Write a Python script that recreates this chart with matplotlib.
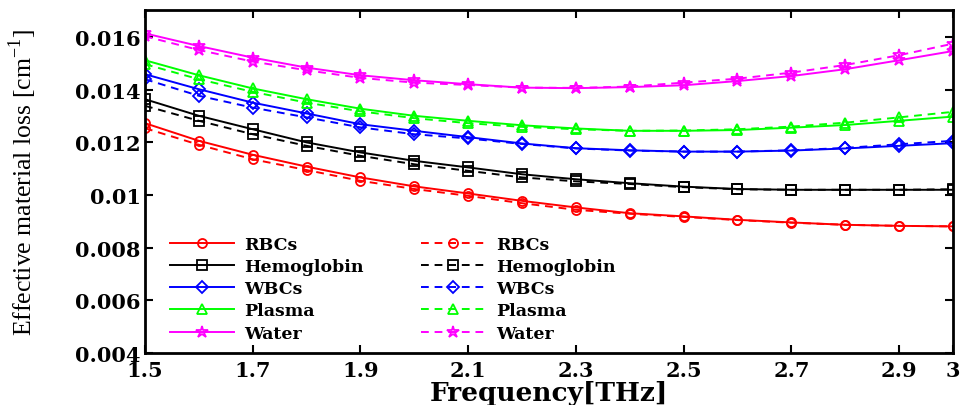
import matplotlib
matplotlib.use("Agg")
import matplotlib.pyplot as plt
import numpy as np

freq = [1.5, 1.6, 1.7, 1.8, 1.9, 2.0, 2.1, 2.2, 2.3, 2.4, 2.5, 2.6, 2.7, 2.8, 2.9, 3.0]

rbc_solid = [0.01273, 0.01206, 0.01153, 0.01108, 0.01067, 0.01033, 0.01006, 0.00978, 0.00953, 0.00931, 0.00919, 0.00906, 0.00896, 0.00887, 0.00883, 0.00881]
rbc_dash = [0.01254, 0.01191, 0.01136, 0.01095, 0.01054, 0.01023, 0.00997, 0.00969, 0.00944, 0.00929, 0.00917, 0.00905, 0.00895, 0.00887, 0.00883, 0.00881]
hem_solid = [0.01364, 0.01301, 0.01250, 0.01200, 0.01162, 0.01130, 0.01105, 0.01079, 0.01060, 0.01045, 0.01032, 0.01023, 0.01020, 0.01020, 0.01020, 0.01020]
hem_dash = [0.01339, 0.01282, 0.01231, 0.01187, 0.01149, 0.01117, 0.01092, 0.01067, 0.01052, 0.01042, 0.01030, 0.01022, 0.01020, 0.01020, 0.01020, 0.01022]
wbc_solid = [0.01459, 0.01402, 0.01351, 0.01310, 0.01269, 0.01244, 0.01220, 0.01196, 0.01178, 0.01170, 0.01165, 0.01165, 0.01169, 0.01177, 0.01187, 0.01197]
wbc_dash = [0.01440, 0.01377, 0.01332, 0.01295, 0.01257, 0.01231, 0.01215, 0.01194, 0.01177, 0.01169, 0.01165, 0.01165, 0.01170, 0.01179, 0.01193, 0.01206]
pla_solid = [0.01512, 0.01455, 0.01405, 0.01364, 0.01328, 0.01301, 0.01282, 0.01265, 0.01253, 0.01244, 0.01244, 0.01247, 0.01256, 0.01266, 0.01282, 0.01298]
pla_dash = [0.01497, 0.01440, 0.01392, 0.01351, 0.01318, 0.01292, 0.01273, 0.01259, 0.01250, 0.01244, 0.01245, 0.01250, 0.01260, 0.01275, 0.01295, 0.01316]
wat_solid = [0.01614, 0.01566, 0.01522, 0.01484, 0.01455, 0.01436, 0.01421, 0.01408, 0.01406, 0.01410, 0.01417, 0.01433, 0.01452, 0.01478, 0.01512, 0.01547]
wat_dash = [0.01603, 0.01551, 0.01507, 0.01474, 0.01445, 0.01427, 0.01418, 0.01408, 0.01407, 0.01412, 0.01427, 0.01442, 0.01465, 0.01494, 0.01531, 0.01575]

labels = ["RBCs", "Hemoglobin", "WBCs", "Plasma", "Water"]
colors = ["#ff0000", "#000000", "#0000ff", "#00ff00", "#ff00ff"]
markers = ["o", "s", "D", "^", "*"]
solid = [rbc_solid, hem_solid, wbc_solid, pla_solid, wat_solid]
dashed = [rbc_dash, hem_dash, wbc_dash, pla_dash, wat_dash]
xticks = [1.5, 1.7, 1.9, 2.1, 2.3, 2.5, 2.7, 2.9, 3.0]
xticklabels = ["1.5", "1.7", "1.9", "2.1", "2.3", "2.5", "2.7", "2.9", "3"]
yticks = [0.004, 0.006, 0.008, 0.01, 0.012, 0.014, 0.016]
yticklabels = ["0.004", "0.006", "0.008", "0.01", "0.012", "0.014", "0.016"]

wide = ["DejaVu Serif", "Liberation Serif"]
times = ["Liberation Serif", "DejaVu Serif"]
plt.rcParams['font.family'] = times
plt.rcParams['mathtext.fontset'] = 'custom'
plt.rcParams['mathtext.rm'] = 'Liberation Serif'

fig = plt.figure(figsize=(9.62, 4.06), dpi=100)
ax = fig.add_axes([0.1507, 0.128, 0.8399, 0.845])

msize = {"o": 6.5, "s": 7, "D": 6, "^": 7, "*": 9}
for lab, c, m, ys in zip(labels, colors, markers, solid):
    ax.plot(freq, ys, color=c, lw=1.4, ls='-', marker=m, ms=msize[m],
            mfc='none', mec=c, mew=1.3, label=lab)
for lab, c, m, ys in zip(labels, colors, markers, dashed):
    ax.plot(freq, ys, color=c, lw=1.4, ls=(0, (4, 3)), marker=m, ms=msize[m],
            mfc='none', mec=c, mew=1.3, label=lab)

ax.set_xlim(1.5, 3.0)
ax.set_ylim(0.004, 0.01703)
ax.set_xticks(xticks)
ax.set_xticklabels(xticklabels, fontsize=15, fontweight='bold', family=wide)
ax.set_yticks(yticks)
ax.set_yticklabels(yticklabels, fontsize=15, fontweight='bold', family=wide)
ax.tick_params(direction='in', top=True, right=True, length=6, width=1.5)
ax.tick_params(axis='x', pad=5)
ax.tick_params(axis='y', pad=3)
for s in ax.spines.values():
    s.set_linewidth(2)

ax.set_xlabel("Frequency[THz]", fontsize=19, fontweight='bold', family=wide,
              labelpad=0)
ax.set_ylabel(r"Effective material loss [cm$^{-1}$]", fontsize=18.5,
              family=times, labelpad=26)

leg = ax.legend(ncol=2, loc='upper left', bbox_to_anchor=(0.022, 0.362),
                frameon=False,
                prop={'family': wide, 'weight': 'bold', 'size': 12.5},
                handlelength=3.7, handletextpad=0.6, columnspacing=3.3,
                labelspacing=0.3, borderaxespad=0)

fig.savefig("out.png", dpi=100)
